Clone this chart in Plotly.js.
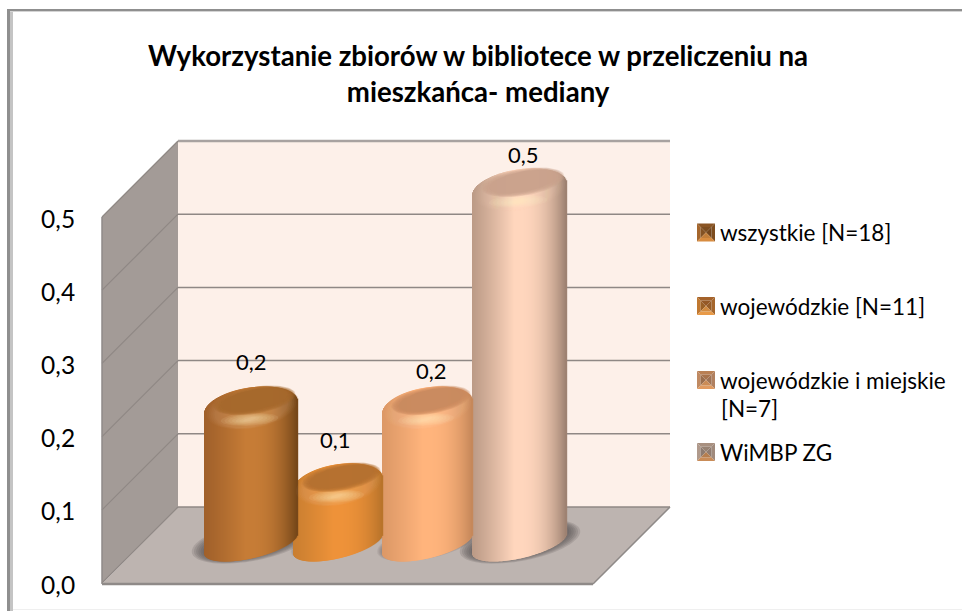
<!DOCTYPE html>
<html><head><meta charset="utf-8">
<script src="https://cdn.plot.ly/plotly-3.0.1.min.js"></script>
<style>html,body{margin:0;padding:0;background:#fff}</style></head>
<body><div id="chart" style="width:962px;height:611px"></div>
<script>
// --- data ---
const categories = ["wszystkie [N=18]", "wojewódzkie [N=11]", "wojewódzkie i miejskie [N=7]", "WiMBP ZG"];
const values = [0.186, 0.081, 0.186, 0.484];
const tickValues = [0, 0.1, 0.2, 0.3, 0.4, 0.5];

// --- styling and geometry ---
const bodyLeft  = ["#a0602a", "#c97e30", "#dc9866", "#bb9a86"];
const bodyMid   = ["#c67c36", "#ee9239", "#ffb47c", "#ffd6bd"];
const bodyRight = ["#744618", "#b8732a", "#c58759", "#9c8070"];
const capDark   = ["#a5682c", "#b37030", "#c88a5f", "#c9a18c"];
const centers = [251.5, 338.5, 428, 520];
const halfWidths = [46.5, 44.5, 45, 47];
const shadowScale = [1, 0.25, 0.45, 1];
const labelShift = [24, 23, 15, 13];
const labelDx = [0, -3, 3, 3];
const FONT = "Lato, 'Open Sans', sans-serif";
const PLOT_L = 101, PX = 732, Y0 = 583, DEPTH = 76, W = 962, H = 611;
const BASE_PX = 39.5, TILT = 10, TOP_TILT = 6, BT = 20, BB = 15;

const V = py => (Y0 - py) / PX;
const pX = px => (px - PLOT_L) / (W - PLOT_L);
const pY = py => 1 - py / H;

function hex(c){return [1,3,5].map(i=>parseInt(c.substr(i,2),16));}
function mix(a,b,t){const A=hex(a),B=hex(b);return `rgb(${A.map((v,i)=>Math.round(v+(B[i]-v)*t)).join(",")})`;}
function ellipse(cx, cv, a, b, t){
  const xs=[],ys=[];
  for(let k=0;k<=64;k++){const th=k/64*2*Math.PI,c=Math.cos(th),s=Math.sin(th);
    xs.push(cx+a*c); ys.push(cv+(t*c+b*s)/PX);}
  return {xs,ys};
}
function pathOf(xs,ys){return "M"+xs.map((x,i)=>x+","+ys[i]).join("L")+"Z";}

const traces=[], shapes=[], annotations=[];
const base = BASE_PX/PX;

function poly(pts,fill,line,lw,ref){
  const c = pts.map(p=>ref?[pX(p[0]),pY(p[1])]:[p[0],V(p[1])]);
  shapes.push({type:"path",xref:ref?"paper":"x",yref:ref?"paper":"y",layer:"below",
    path:pathOf(c.map(p=>p[0]),c.map(p=>p[1])),fillcolor:fill,line:{color:line||fill,width:lw||0}});
}
// frame
poly([[7,9],[962,9],[962,11],[7,11]],"#8f8f8f",null,0,true);
poly([[10,11],[962,11],[962,12],[10,12]],"#d4d4d4",null,0,true);
poly([[7,9],[10,9],[10,611],[7,611]],"#8f8f8f",null,0,true);
poly([[10,12],[13,12],[13,611],[10,611]],"#c4c4c4",null,0,true);
poly([[13,609],[962,609],[962,610],[13,610]],"#efefef",null,0,true);

// walls
poly([[178,141],[670,141],[670,507],[178,507]],"#fdf0e9");
poly([[102,217],[178,141],[178,507],[102,583]],"#a39b97");
poly([[102,584],[178,507],[670,507],[593,584]],"#bdb4b0");

// grid from tick values
tickValues.forEach(v=>{
  const yF=v, yB=v+DEPTH/PX;
  shapes.push({type:"line",xref:"x",yref:"y",layer:"below",x0:178,x1:670,y0:yB,y1:yB,line:{color:v===0.5?"#a8a2a0":"#8f8885",width:v===0.5?2.5:1.5}});
  shapes.push({type:"line",xref:"x",yref:"y",layer:"below",x0:102,x1:178,y0:yF,y1:yB,line:{color:"#8f8885",width:1.2}});
});
shapes.push({type:"line",xref:"x",yref:"y",layer:"below",x0:102,x1:593,y0:V(584),y1:V(584),line:{color:"#8f8a88",width:2.5}});
shapes.push({type:"line",xref:"x",yref:"y",layer:"below",x0:593,x1:670,y0:V(584),y1:V(507),line:{color:"#8f8a88",width:1.5}});
shapes.push({type:"line",xref:"x",yref:"y",layer:"below",x0:102,x1:102,y0:V(217),y1:V(584),line:{color:"#8f8a88",width:1.5}});

// floor shadows
categories.forEach((c,i)=>{
  const s=shadowScale[i];
  for(let k=6;k>=1;k--){
    const e=ellipse(centers[i],base+2/PX,halfWidths[i]+k*2.2*s,BB+k*0.8*s,TILT);
    shapes.push({type:"path",xref:"x",yref:"y",layer:"below",path:pathOf(e.xs,e.ys),fillcolor:"rgba(85,80,78,"+(0.16*s+0.02)+")",line:{width:0}});
  }
});

// cylinder bodies: draw back to front
[3,2,1,0].forEach(i=>{
  const xs=[],bases=[],hs=[],cols=[];
  const cx=centers[i],hw=halfWidths[i];
  for(let x=cx-hw+0.5;x<cx+hw;x+=1){
    const d=(x-cx)/hw,r=Math.sqrt(1-d*d);
    const bot=base+(TILT*d-BB*r)/PX;
    const top=base+values[i]+(TOP_TILT*d+BT*r)/PX;
    xs.push(x);bases.push(bot);hs.push(top-bot);
    const col=d<0?mix(bodyLeft[i],bodyMid[i],Math.min(1,Math.pow((d+1)/0.9,1.1)))
                 :mix(bodyMid[i],bodyRight[i],Math.pow(d,2.2));
    cols.push(col);
  }
  traces.push({type:"bar",name:categories[i],x:xs,y:hs,base:bases,width:1.4,
    marker:{color:cols,line:{width:0}},hoverinfo:"name",showlegend:false});
});

// cylinder caps
function fillEll(cx,cv,a,b,t,color){
  const e=ellipse(cx,cv,a,b,t);
  traces.push({type:"scatter",mode:"lines",x:e.xs,y:e.ys,fill:"toself",fillcolor:color,
    line:{width:0},hoverinfo:"skip",showlegend:false});
}
categories.forEach((c,i)=>{
  const cx=centers[i],hw=halfWidths[i],cv=base+values[i];
  const d=hex(capDark[i]).join(",");
  // bevel glow
  for(let k=0;k<5;k++) fillEll(cx,cv-1/PX,hw*(.96-k*.04),BT*(1.02-k*.02),TOP_TILT,"rgba(255,235,200,.03)");
  // highlight on the lower rim
  for(let k=0;k<7;k++) fillEll(cx-2,cv-12/PX,hw*(.62-k*.08),6.5-k*.8,1.5,"rgba(255,240,205,.09)");
  // top face
  for(let k=0;k<6;k++) fillEll(cx+3,cv+7/PX,hw*(.88-k*.025),BT*(.68-k*.03),TOP_TILT,"rgba("+d+",.28)");
  fillEll(cx+3,cv+7.5/PX,hw*.72,BT*.52,TOP_TILT,"rgba("+d+",.7)");
  // data label
  annotations.push({xref:"x",yref:"y",x:cx+labelDx[i],y:cv+BT/PX,yshift:labelShift[i]+2,
    text:values[i].toFixed(1).replace(".",","),showarrow:false,font:{family:FONT,size:22,color:"#000"},yanchor:"middle"});
});

// legend
const swatchY=[232.5,306,380,452];
const swTop=["#8a5524","#a4622a","#b98055","#a89080"], swLeft=["#a5662c","#c07830","#c08a62","#b09a8c"],
      swRight=["#7d4c1e","#a5662c","#b08060","#a08a7c"], swBot=["#d88c40","#e89a48","#e09a60","#c98c58"];
categories.forEach((c,i)=>{
  const x0=697,x1=715,cy=swatchY[i],y0=cy-9,y1=cy+9,mx=706,ins=3.5;
  poly([[x0,y0],[x1,y0],[x1-ins,y0+ins],[x0+ins,y0+ins]],swTop[i]);
  poly([[x0,y0],[x0+ins,y0+ins],[x0+ins,y1-ins],[x0,y1]],swLeft[i]);
  poly([[x1,y0],[x1-ins,y0+ins],[x1-ins,y1-ins],[x1,y1]],swRight[i]);
  poly([[x0,y1],[x1,y1],[x1-ins,y1-ins],[x0+ins,y1-ins]],swBot[i]);
  poly([[x0+ins,y0+ins],[mx,cy],[x0+ins,y1-ins]],mix(swLeft[i],"#000000",.2));
  poly([[x1-ins,y0+ins],[mx,cy],[x1-ins,y1-ins]],mix(swRight[i],"#000000",.1));
  poly([[x0+ins,y0+ins],[x1-ins,y0+ins],[mx,cy]],mix(swTop[i],"#000000",.1));
  poly([[x0+ins,y1-ins],[x1-ins,y1-ins],[mx,cy]],mix(swBot[i],"#000000",.1));
});
const legendLines=[["wszystkie [N=18]",717.5,232],["wojewódzkie [N=11]",717.5,306],["wojewódzkie i miejskie",717.5,380],["[N=7]",718.5,408],["WiMBP ZG",717.5,452]];
legendLines.forEach(l=>annotations.push({xref:"x",yref:"y",x:l[1],y:V(l[2]),text:l[0],showarrow:false,xanchor:"left",yanchor:"middle",font:{family:FONT,size:22.5,color:"#000"}}));

const layout={
  width:W,height:H,margin:{l:PLOT_L,r:0,t:0,b:0,pad:0},
  paper_bgcolor:"#fff",plot_bgcolor:"rgba(0,0,0,0)",
  separators:", ",barmode:"overlay",showlegend:false,
  title:{text:"Wykorzystanie zbiorów w bibliotece w przeliczeniu na<br>mieszkańca- mediany",
    font:{family:FONT,size:27.6,color:"#000",weight:700},x:0.497,xanchor:"center",y:0.8915,yanchor:"bottom"},
  xaxis:{range:[PLOT_L,W],visible:false,fixedrange:true},
  yaxis:{range:[V(H),V(0)],tickmode:"array",tickvals:tickValues,tickformat:".1f",
    showgrid:false,zeroline:false,showline:false,ticks:"outside",ticklen:20,tickcolor:"rgba(0,0,0,0)",
    tickfont:{family:FONT,size:24.5,color:"#000"},ticklabelshift:2,fixedrange:true},
  shapes,annotations
};
Plotly.newPlot("chart",traces,layout,{displayModeBar:false,responsive:false});
</script></body></html>
